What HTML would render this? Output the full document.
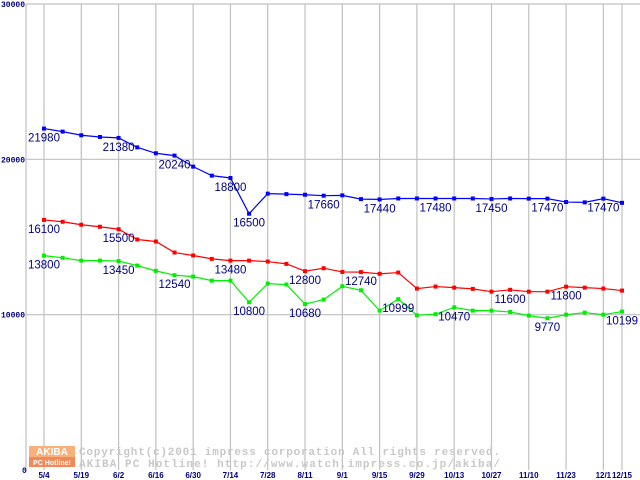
<!DOCTYPE html>
<html><head><meta charset="utf-8"><style>
html,body{margin:0;padding:0;background:#fff}
svg{display:block}
.yt{font:bold 8px "Liberation Mono",monospace;fill:#000080}
.xt{font:bold 8px "Liberation Sans",sans-serif;fill:#000080}
.lb{font:11.5px "Liberation Sans",sans-serif;fill:#000080}
.wm{font:bold 11px "Liberation Mono",monospace;fill:#c8c8c8}
</style></head><body>
<svg id="chart" width="640" height="480" xmlns="http://www.w3.org/2000/svg">
<g id="grid"></g>
<g id="wm">
<rect x="29" y="446" width="46" height="11" fill="#f9b07a"/>
<text x="52" y="455" text-anchor="middle" style="font:bold 10px 'Liberation Sans',sans-serif;fill:#fff">AKIBA</text>
<rect x="29" y="457" width="46" height="10" fill="#f08a5a"/>
<text x="52" y="465" text-anchor="middle" style="font:bold 7px 'Liberation Sans',sans-serif;fill:#fff">PC Hotline!</text>
<text class="wm" x="79" y="455" textLength="421" lengthAdjust="spacing">Copyright(c)2001 impress corporation All rights reserved.</text>
<text class="wm" x="79" y="467" textLength="421" lengthAdjust="spacing">AKIBA PC Hotline!  http://www.watch.impress.co.jp/akiba/</text>
</g>
<g id="series"></g>
<g id="axes"></g>
</svg>
<script>
const xLabels=["5/4","5/19","6/2","6/16","6/30","7/14","7/28","8/11","9/1","9/15","9/29","10/13","10/27","11/10","11/23","12/1","12/15"];
const xLabelIdx=[0,2,4,6,8,10,12,14,16,18,20,22,24,26,28,30,31];
const yTicks=[0,10000,20000,30000];
const blueVals=[21980,21785,21550,21440,21380,20770,20390,20240,19530,18950,18800,16500,17790,17760,17720,17660,17680,17440,17420,17480,17480,17480,17480,17480,17450,17480,17470,17470,17250,17230,17470,17200];
const redVals=[16100,15980,15790,15660,15500,14840,14710,14000,13810,13590,13480,13480,13420,13270,12800,12990,12750,12740,12630,12710,11680,11810,11740,11660,11480,11600,11480,11480,11800,11740,11680,11550];
const greenVals=[13800,13660,13480,13480,13450,13160,12820,12540,12450,12190,12190,10800,12000,11940,10680,10970,11830,11570,10260,10999,9960,10030,10470,10260,10260,10170,9940,9770,10000,10130,10000,10199];
const blueLabelIdx=[0,4,7,10,11,15,18,21,24,27,30];
const blueLabels=["21980","21380","20240","18800","16500","17660","17440","17480","17450","17470","17470"];
const redLabelIdx=[0,4,10,14,17,25,28];
const redLabels=["16100","15500","13480","12800","12740","11600","11800"];
const greenLabelIdx=[0,4,7,11,14,19,22,27,31];
const greenLabels=["13800","13450","12540","10800","10680","10999","10470","9770","10199"];
const N=32;
const NS="http://www.w3.org/2000/svg";
const X=i=>44+i*(578/(N-1));
const Y=v=>470-v*(466/30000);
function mk(tag,attrs,parent,text){const e=document.createElementNS(NS,tag);for(const k in attrs)e.setAttribute(k,attrs[k]);if(text!==undefined)e.textContent=text;parent.appendChild(e);return e;}
const grid=document.getElementById('grid'),axes=document.getElementById('axes'),ser=document.getElementById('series');
yTicks.forEach(t=>{
 if(t>0){const l=mk('line',{x1:26,x2:640,y1:Y(t),y2:Y(t),stroke:'#c0c0c0','stroke-width':1.2},grid);
 
 }
 const tx=mk('text',{x:t===0?22:1,y:Y(t)+3,class:'yt'},axes,String(t));
 
 
});
const ax=mk('line',{x1:26,x2:26,y1:4,y2:471,stroke:'#c0c0c0','stroke-width':1.2},grid);


xLabels.forEach((s,k)=>{
 const x=X(xLabelIdx[k]);
 const l=mk('line',{x1:x,x2:x,y1:4,y2:470,stroke:'#c0c0c0','stroke-width':1.2},grid);
 
 
 const t=mk('text',{x:x,y:478,class:'xt','text-anchor':'middle'},axes,s);
 
 
});
function series(vals,col,name,lidx,labs){
 const g=mk('g',{},ser);
 
 
 const p=mk('polyline',{points:vals.map((v,i)=>X(i)+','+Y(v)).join(' '),fill:'none',stroke:col,'stroke-width':1.2},g);
 
 
 vals.forEach((v,i)=>{const r=mk('rect',{x:X(i)-2,y:Y(v)-2,width:4,height:4,fill:col},g);
 
 });
 lidx.forEach((i,k)=>{const t=mk('text',{x:X(i),y:Y(vals[i])+13,class:'lb','text-anchor':'middle'},g,labs[k]);
 
 });
}
series(blueVals,'#0000ff','blue',blueLabelIdx,blueLabels);
series(redVals,'#ff0000','red',redLabelIdx,redLabels);
series(greenVals,'#00ee00','green',greenLabelIdx,greenLabels);
</script>
</body></html>
